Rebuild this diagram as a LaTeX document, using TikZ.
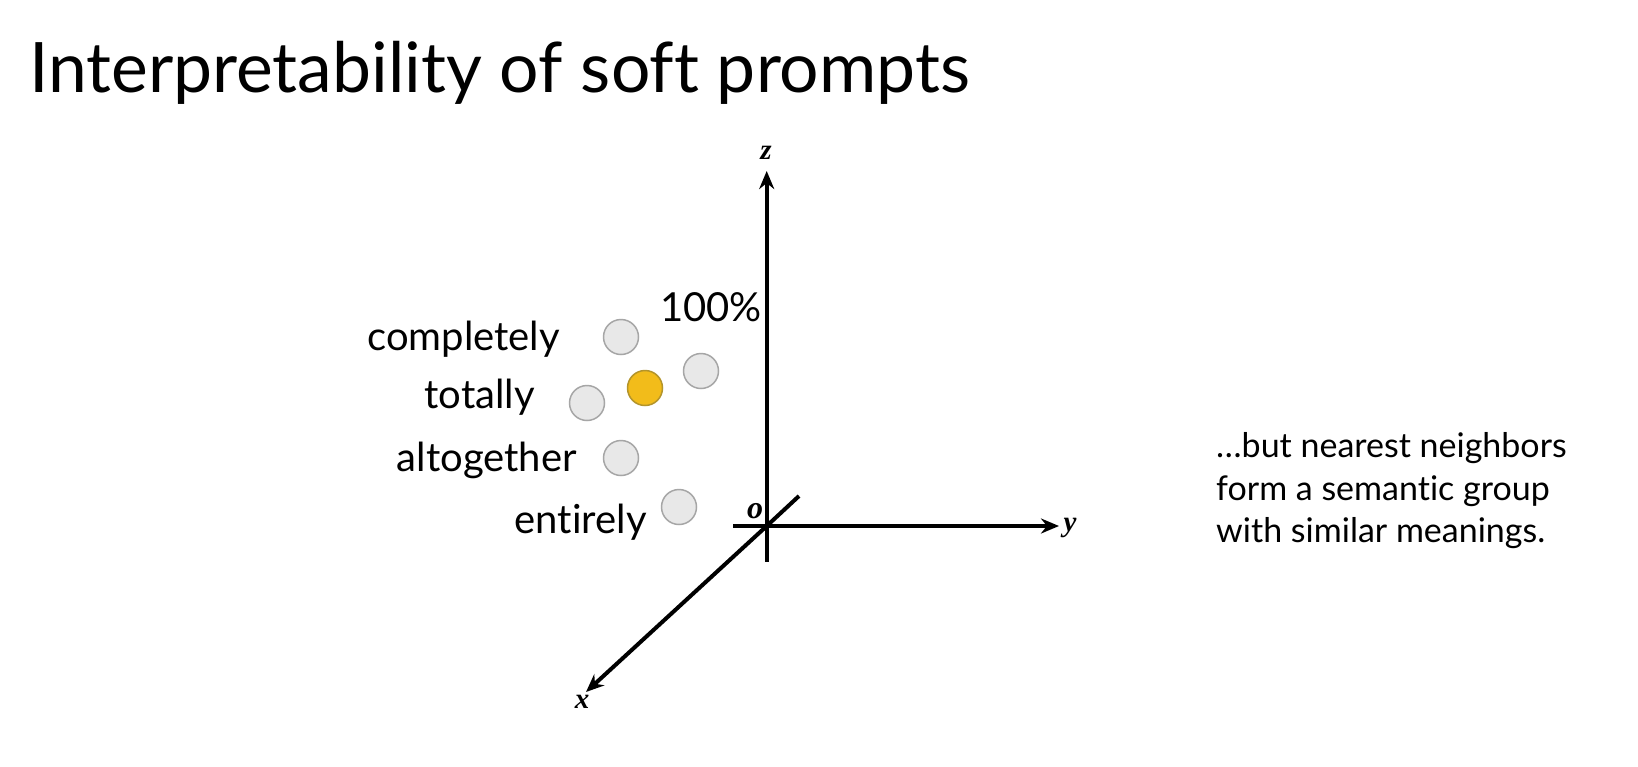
\documentclass[tikz,border=0pt]{standalone}
\usepackage{fontspec}
\setmainfont{Lato}[Ligatures=NoCommon]
\newfontfamily\axisfont{Liberation Serif}
\usetikzlibrary{arrows.meta}
\definecolor{dotgray}{HTML}{E8E8E8}
\definecolor{dotedge}{HTML}{A6A6A6}
\definecolor{dotyellow}{HTML}{F2BC1A}
\definecolor{yedge}{HTML}{B3942B}
\begin{document}
\begin{tikzpicture}[x=1pt,y=-1pt,
  axisline/.style={line width=4pt,-{Stealth[length=18pt,width=15pt]}},
  axislabel/.style={font=\axisfont\bfseries\itshape\fontsize{29}{29}\selectfont,inner sep=0pt},
  word/.style={font=\fontsize{40}{40}\selectfont,inner sep=0pt,anchor=base east},
  dot/.style={circle,minimum size=35pt,inner sep=0pt,fill=dotgray,draw=dotedge,line width=1.5pt},
  ydot/.style={dot,fill=dotyellow,draw=yedge},
  note/.style={font=\fontsize{34}{34}\selectfont,inner sep=0pt,anchor=base west}]
\useasboundingbox[fill=white] (0,0) rectangle (1638,766);
% title
\node[font=\fontsize{69.6}{69.6}\selectfont,inner sep=0pt,anchor=base west] (title) at (29,92) {Interpretability of soft prompts};
% axes
\coordinate (O) at (766.7,526);
\coordinate (zs) at (766.7,562);
\coordinate (ze) at (766.7,171);
\coordinate (ys) at (733,526);
\coordinate (ye) at (1059,526);
\coordinate (xs) at (799,496);
\coordinate (xe) at (586,692);
\draw[line width=4pt] (O) -- (zs);
\draw[axisline] (O) -- (ze);
\draw[line width=4pt] (O) -- (ys);
\draw[axisline] (O) -- (ye);
\draw[line width=4pt] (O) -- (xs);
\draw[axisline] (O) -- (xe);
\node[axislabel] (zl) at (766,153) {z};
\node[axislabel] (yl) at (1070,528) {y};
\node[axislabel] (xl) at (582,702) {x};
\node[axislabel,font=\axisfont\bfseries\itshape\fontsize{32}{32}\selectfont] (ol) at (755,511) {o};
% dots
\node[dot] (d1) at (621,337) {};
\node[dot] (d2) at (701,371) {};
\node[ydot] (d3) at (645,388) {};
\node[dot] (d4) at (587,403) {};
\node[dot] (d5) at (621,458) {};
\node[dot] (d6) at (679,507) {};
% words
\node[word] (w1) at (560,350) {completely};
\node[word] (w2) at (535,408) {totally};
\node[word] (w3) at (577,471.7) {altogether};
\node[word] (w4) at (647,533) {entirely};
\node[word] (w5) at (762,321) {100\%};
% note
\node[note] (n1) at (1216,457) {\dots but nearest neighbors};
\node[note] (n2) at (1216,500) {form a semantic group};
\node[note] (n3) at (1216,542) {with similar meanings.};
\end{tikzpicture}
\end{document}
